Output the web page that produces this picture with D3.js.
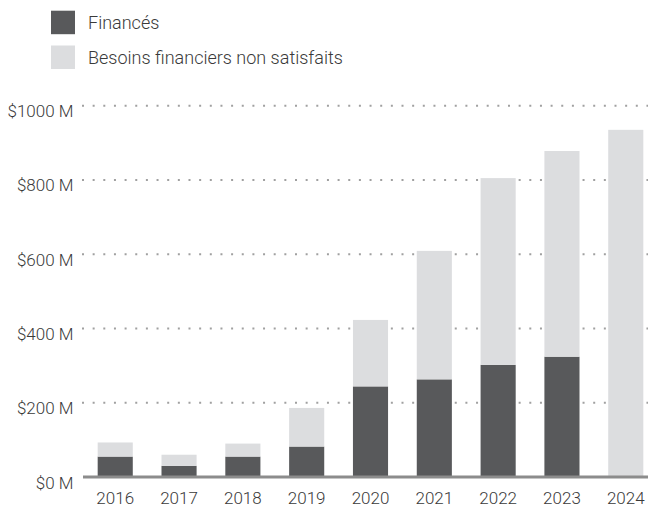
<!DOCTYPE html>
<html>
<head>
<meta charset="utf-8">
<script src="https://cdn.jsdelivr.net/npm/d3@7"></script>
<style>
  html, body { margin: 0; padding: 0; background: #fff; }
  svg { display: block; font-family: Roboto, "Noto Sans", sans-serif; }
</style>
</head>
<body>
<svg id="chart" width="648" height="506"></svg>
<script>
const years = ["2016","2017","2018","2019","2020","2021","2022","2023","2024"];
const funded = [55, 30, 55, 82, 244, 263, 302, 324, 0];
const unmet = [38, 30, 35, 104, 179, 346, 503, 554, 935];
const seriesNames = ["Financés", "Besoins financiers non satisfaits"];
const yTicks = [0, 200, 400, 600, 800, 1000];
const yTickLabels = ["$0 M", "$200 M", "$400 M", "$600 M", "$800 M", "$1000 M"];

const colors = ["#58595b", "#dcdddf"];
const W = 648, H = 506;
const svg = d3.select("#chart");

const x = d3.scaleBand().domain(years).range([83, 658]).paddingInner(0.45).paddingOuter(0.23);
const y = d3.scaleLinear().domain([0, 1000]).range([477, 105.7]);

// gridlines
svg.append("g").selectAll("line")
  .data(yTicks.filter(d => d > 0))
  .join("line")
  .attr("x1", 82).attr("x2", W)
  .attr("y1", d => y(d)).attr("y2", d => y(d))
  .attr("stroke", "#a0a0a0")
  .attr("stroke-width", 2)
  .attr("stroke-dasharray", "2,8.65");

// y labels
svg.append("g").selectAll("text")
  .data(yTicks)
  .join("text")
  .attr("x", 73.5)
  .attr("y", d => y(d) + 11.5)
  .attr("text-anchor", "end")
  .attr("font-size", 17)
  .attr("font-weight", 300)
  .attr("fill", "#3a3a3a")
  .text((d, i) => yTickLabels[i]);

// stacked bars
const rows = years.map((yr, i) => ({ year: yr, a: funded[i], b: unmet[i] }));
const stack = d3.stack().keys(["a", "b"])(rows);
svg.append("g").selectAll("g")
  .data(stack)
  .join("g")
  .attr("fill", (d, i) => colors[i])
  .selectAll("rect")
  .data(d => d)
  .join("rect")
  .attr("x", d => x(d.data.year))
  .attr("width", x.bandwidth())
  .attr("y", d => y(d[1]))
  .attr("height", d => y(d[0]) - y(d[1]));

// baseline
svg.append("line")
  .attr("x1", 83).attr("x2", W)
  .attr("y1", y(0)).attr("y2", y(0))
  .attr("stroke", "#8c8c8c")
  .attr("stroke-width", 3);

// x labels
svg.append("g").selectAll("text")
  .data(years)
  .join("text")
  .attr("x", d => x(d) + x.bandwidth() / 2)
  .attr("y", 503.5)
  .attr("text-anchor", "middle")
  .attr("font-size", 17)
  .attr("font-weight", 300)
  .attr("fill", "#3a3a3a")
  .text(d => d);

// legend
const leg = svg.append("g").selectAll("g")
  .data(seriesNames)
  .join("g")
  .attr("transform", (d, i) => `translate(51, ${10.7 + i * 34.8})`);
leg.append("rect").attr("width", 24).attr("height", 23.5).attr("fill", (d, i) => colors[i]);
leg.append("text")
  .attr("x", 37).attr("y", 18)
  .attr("font-size", 18)
  .attr("font-weight", 300)
  .attr("fill", "#3a3a3a")
  .text(d => d);
</script>
</body>
</html>
